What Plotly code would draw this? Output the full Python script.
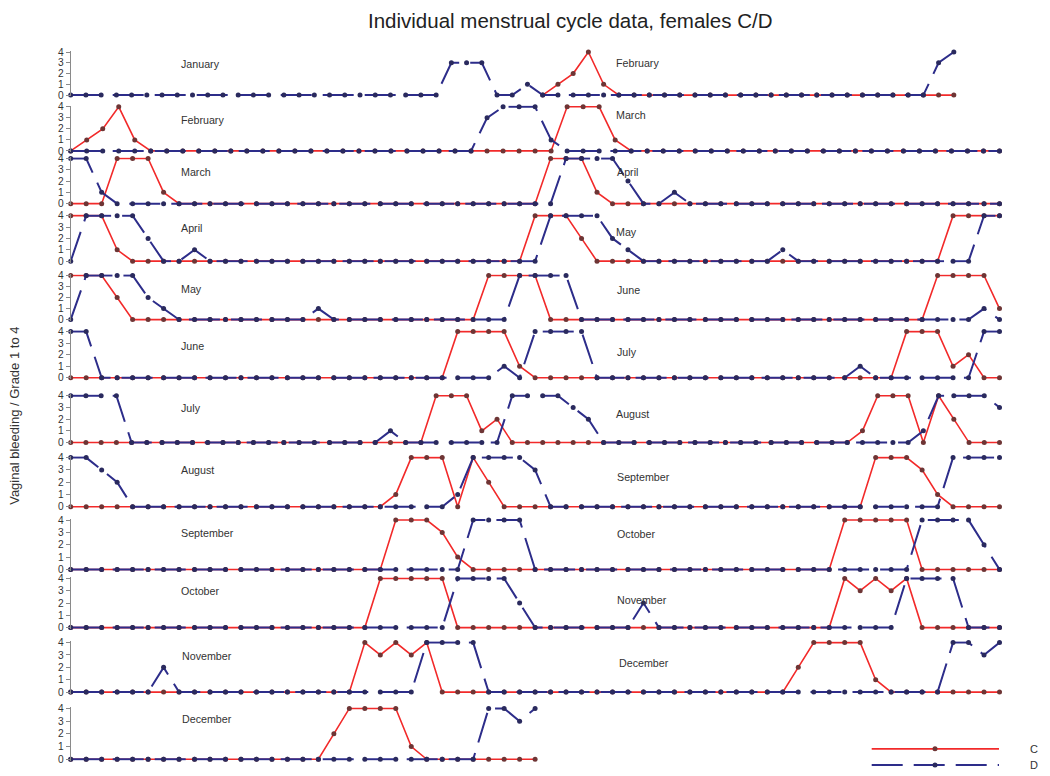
import plotly.graph_objects as go

W, H = 1050, 776

# ---------------- data: daily grades (0-4) per month ----------------
month_names = ["January", "February", "March", "April", "May", "June",
               "July", "August", "September", "October", "November", "December"]

C_jan = [None, None, None, None, None, None, None, None, None, None,
         None, None, None, None, None, None, None, None, None, None,
         None, None, None, None, None, None, None, None, None, None, None]
D_jan = [0, 0, 0, 0, 0, 0, 0, 0, 0, 0, 0, 0, 0, 0, 0, 0, 0, 0, 0, 0,
         0, 0, 0, 0, 0, 3, 3, 3, 0, 0, 1]

C_feb = [0, 1, 2, 4, 1, 0, 0, 0, 0, 0, 0, 0, 0, 0, 0, 0, 0, 0, 0, 0,
         0, 0, 0, 0, 0, 0, 0, 0]
D_feb = [0, 0, 0, 0, 0, 0, 0, 0, 0, 0, 0, 0, 0, 0, 0, 0, 0, 0, 0, 0,
         0, 0, 0, 0, 0, 0, 3, 4]

C_mar = [0, 0, 0, 4, 4, 4, 1, 0, 0, 0, 0, 0, 0, 0, 0, 0, 0, 0, 0, 0,
         0, 0, 0, 0, 0, 0, 0, 0, 0, 0, 0]
D_mar = [4, 4, 1, 0, 0, 0, 0, 0, 0, 0, 0, 0, 0, 0, 0, 0, 0, 0, 0, 0,
         0, 0, 0, 0, 0, 0, 0, 0, 0, 0, 0]

C_apr = [4, 4, 4, 1, 0, 0, 0, 0, 0, 0, 0, 0, 0, 0, 0, 0, 0, 0, 0, 0,
         0, 0, 0, 0, 0, 0, 0, 0, 0, 0]
D_apr = [0, 4, 4, 4, 4, 2, 0, 0, 1, 0, 0, 0, 0, 0, 0, 0, 0, 0, 0, 0,
         0, 0, 0, 0, 0, 0, 0, 0, 0, 0]

C_may = [4, 4, 4, 2, 0, 0, 0, 0, 0, 0, 0, 0, 0, 0, 0, 0, 0, 0, 0, 0,
         0, 0, 0, 0, 0, 0, 0, 4, 4, 4, 4]
D_may = [0, 4, 4, 4, 4, 2, 1, 0, 0, 0, 0, 0, 0, 0, 0, 0, 1, 0, 0, 0,
         0, 0, 0, 0, 0, 0, 0, 0, 0, 4, 4]

C_jun = [0, 0, 0, 0, 0, 0, 0, 0, 0, 0, 0, 0, 0, 0, 0, 0, 0, 0, 0, 0,
         0, 0, 0, 0, 0, 4, 4, 4, 4, 1]
D_jun = [4, 4, 0, 0, 0, 0, 0, 0, 0, 0, 0, 0, 0, 0, 0, 0, 0, 0, 0, 0,
         0, 0, 0, 0, 0, 0, 0, 0, 1, 0]

C_jul = [0, 0, 0, 0, 0, 0, 0, 0, 0, 0, 0, 0, 0, 0, 0, 0, 0, 0, 0, 0,
         0, 0, 0, 0, 4, 4, 4, 1, 2, 0, 0]
D_jul = [4, 4, 4, 4, 0, 0, 0, 0, 0, 0, 0, 0, 0, 0, 0, 0, 0, 0, 0, 0,
         0, 1, 0, 0, 0, 0, 0, 0, 0, 4, 4]

C_aug = [0, 0, 0, 0, 0, 0, 0, 0, 0, 0, 0, 0, 0, 0, 0, 0, 0, 0, 0, 0,
         0, 1, 4, 4, 4, 0, 4, 2, 0, 0, 0]
D_aug = [4, 4, 3, 2, 0, 0, 0, 0, 0, 0, 0, 0, 0, 0, 0, 0, 0, 0, 0, 0,
         0, 0, 0, 0, 0, 1, 4, 4, 4, 4, 3]

C_sep = [0, 0, 0, 0, 0, 0, 0, 0, 0, 0, 0, 0, 0, 0, 0, 0, 0, 0, 0, 0,
         0, 4, 4, 4, 3, 1, 0, 0, 0, 0]
D_sep = [0, 0, 0, 0, 0, 0, 0, 0, 0, 0, 0, 0, 0, 0, 0, 0, 0, 0, 0, 0,
         0, 0, 0, 0, 0, 0, 4, 4, 4, 4]

C_oct = [0, 0, 0, 0, 0, 0, 0, 0, 0, 0, 0, 0, 0, 0, 0, 0, 0, 0, 0, 0,
         4, 4, 4, 4, 4, 0, 0, 0, 0, 0, 0]
D_oct = [0, 0, 0, 0, 0, 0, 0, 0, 0, 0, 0, 0, 0, 0, 0, 0, 0, 0, 0, 0,
         0, 0, 0, 0, 0, 4, 4, 4, 4, 2, 0]

C_nov = [0, 0, 0, 0, 0, 0, 0, 0, 0, 0, 0, 0, 0, 0, 0, 0, 0, 0, 0, 4,
         3, 4, 3, 4, 0, 0, 0, 0, 0, 0]
D_nov = [0, 0, 0, 0, 0, 0, 2, 0, 0, 0, 0, 0, 0, 0, 0, 0, 0, 0, 0, 0,
         0, 0, 0, 4, 4, 4, 4, 0, 0, 0]

C_dec = [0, 0, 0, 0, 0, 0, 0, 0, 0, 0, 0, 0, 0, 0, 0, 0, 0, 2, 4, 4,
         4, 4, 1, 0, 0, 0, 0, 0, 0, 0, 0]
D_dec = [0, 0, 0, 0, 0, 0, 0, 0, 0, 0, 0, 0, 0, 0, 0, 0, 0, 0, 0, 0,
         0, 0, 0, 0, 0, 0, 0, 4, 4, 3, 4]

C_months = [C_jan, C_feb, C_mar, C_apr, C_may, C_jun,
            C_jul, C_aug, C_sep, C_oct, C_nov, C_dec]
D_months = [D_jan, D_feb, D_mar, D_apr, D_may, D_jun,
            D_jul, D_aug, D_sep, D_oct, D_nov, D_dec]
month_len = [31, 28, 31, 30, 31, 30, 31, 31, 30, 31, 30, 31]
for m in range(12):
    assert len(C_months[m]) == month_len[m], ("C", m, len(C_months[m]))
    assert len(D_months[m]) == month_len[m], ("D", m, len(D_months[m]))

y_ticks = [0, 1, 2, 3, 4]

# ---------------- layout / style ----------------
row_xmax = [61, 58, 60, 60, 60, 60, 61, 60, 60, 60, 60, 60]
# target pixel y of grade 4 and grade 0 per row
row_px = [(52, 95), (106.7, 150.7), (158.3, 203.3), (215.3, 260.7),
          (275, 319), (331, 377), (395, 441.7), (456.7, 505.7),
          (519, 568.3), (577.3, 626.3), (641.3, 690.7), (707, 757.7)]
X0, X1 = 70.7, 999.5
PAD = 0.12

# small vertical calibration of the rendered page
VA, VB = 0.9875, 4.1


def py(y):
    """target pixel y (from top) -> paper coordinate"""
    return 1 - ((y - VB) / VA) / H


def px(x):
    return x / W


RED = "#f22a2a"
RED_M = "#6e3535"
BLUE = "#2d2d8a"
BLUE_M = "#2a2a5e"
DASH = "31px,11px"
AXC = "#8a8a8a"
FONT = "Liberation Sans, Arial, sans-serif"

fig = go.Figure()
layout = {}
for r in range(12):
    if r < 11:
        c = C_months[r] + C_months[r + 1]
        d = D_months[r] + D_months[r + 1]
    else:
        c = C_months[11]
        d = D_months[11]
    x = list(range(len(c)))
    ax = "" if r == 0 else str(r + 1)
    fig.add_trace(go.Scatter(
        x=x, y=c, xaxis="x" + ax, yaxis="y" + ax, mode="lines+markers",
        line=dict(color=RED, width=1.6), marker=dict(color=RED_M, size=5),
        cliponaxis=False, showlegend=False, hoverinfo="skip", name="C"))
    fig.add_trace(go.Scatter(
        x=x, y=d, xaxis="x" + ax, yaxis="y" + ax, mode="lines+markers",
        line=dict(color=BLUE, width=2, dash=DASH), marker=dict(color=BLUE_M, size=5),
        cliponaxis=False, showlegend=False, hoverinfo="skip", name="D"))
    y4, y0 = row_px[r]
    ppu = (y0 - y4) / 4.0
    top = y4 - PAD * ppu
    bot = y0 + PAD * ppu
    layout["xaxis" + ax] = dict(domain=[px(X0), px(X1)], range=[0, row_xmax[r]],
                                visible=False, anchor="y" + ax, fixedrange=True)
    layout["yaxis" + ax] = dict(domain=[py(bot), py(top)], range=[-PAD, 4 + PAD],
                                tickvals=y_ticks, showline=True, linecolor=AXC, linewidth=1,
                                ticks="outside", ticklen=4, tickcolor=AXC, tickwidth=1,
                                showgrid=False, zeroline=False, anchor="x" + ax,
                                tickfont=dict(size=10.2, color="#333333", family=FONT),
                                fixedrange=True)

# month labels (target pixel positions)
label_pos = [
    [(179.3, 64), (614.3, 63.3)],
    [(179.3, 120), (614.3, 115)],
    [(179.3, 171.3), (615, 171.3)],
    [(179.3, 227.3), (614.3, 231.7)],
    [(179.3, 288.3), (614.7, 289)],
    [(179.3, 345), (614.7, 351)],
    [(179.3, 407.7), (614.3, 413.3)],
    [(179.3, 469), (615, 475.7)],
    [(179.3, 531.7), (614.7, 533)],
    [(179.3, 589.7), (614.7, 598.3)],
    [(179.7, 654.7), (617, 661.3)],
    [(179.7, 718)],
]
annotations = []
for r, pos in enumerate(label_pos):
    for k, (lx, ly) in enumerate(pos):
        annotations.append(dict(
            text=month_names[(r + k) % 12], x=px(lx), y=py(ly), xref="paper", yref="paper",
            xanchor="left", yanchor="middle", showarrow=False,
            font=dict(size=10.7, color="#333333", family=FONT)))

annotations.append(dict(
    text="Individual menstrual cycle data, females C/D", x=px(570.5), y=py(21),
    xref="paper", yref="paper", xanchor="center", yanchor="middle", showarrow=False,
    font=dict(size=20.5, color="#222222", family=FONT)))
annotations.append(dict(
    text="Vaginal bleeding / Grade 1 to 4", x=px(15), y=py(415), textangle=-90,
    xref="paper", yref="paper", xanchor="center", yanchor="middle", showarrow=False,
    font=dict(size=13, color="#333333", family=FONT)))

# legend (drawn manually)
shapes = []
legend_items = [("C", RED, RED_M, "solid", 1.6, 747.3), ("D", BLUE, BLUE_M, DASH, 2, 763.3)]
for name, lc, mc, dash, lw, ly in legend_items:
    shapes.append(dict(type="line", xref="paper", yref="paper",
                       x0=px(871.7), x1=px(999), y0=py(ly), y1=py(ly),
                       line=dict(color=lc, width=lw, dash=dash)))
    shapes.append(dict(type="circle", xref="paper", yref="paper",
                       x0=px(932.5), x1=px(937.5), y0=py(ly + 2.5), y1=py(ly - 2.5),
                       fillcolor=mc, line=dict(width=0)))
    annotations.append(dict(text=name, x=px(1028), y=py(ly), xref="paper", yref="paper",
                            xanchor="left", yanchor="middle", showarrow=False,
                            font=dict(size=11, color="#333333", family=FONT)))

fig.update_layout(
    width=W, height=H, margin=dict(l=0, r=0, t=0, b=0),
    paper_bgcolor="white", plot_bgcolor="white", showlegend=False,
    annotations=annotations, shapes=shapes, **layout)

fig.write_html(
    "out.html",
    config={"displayModeBar": False},
    post_script="document.documentElement.style.margin='0';document.body.style.margin='0';"
                "document.body.style.padding='0';document.body.style.overflow='hidden';",
)
